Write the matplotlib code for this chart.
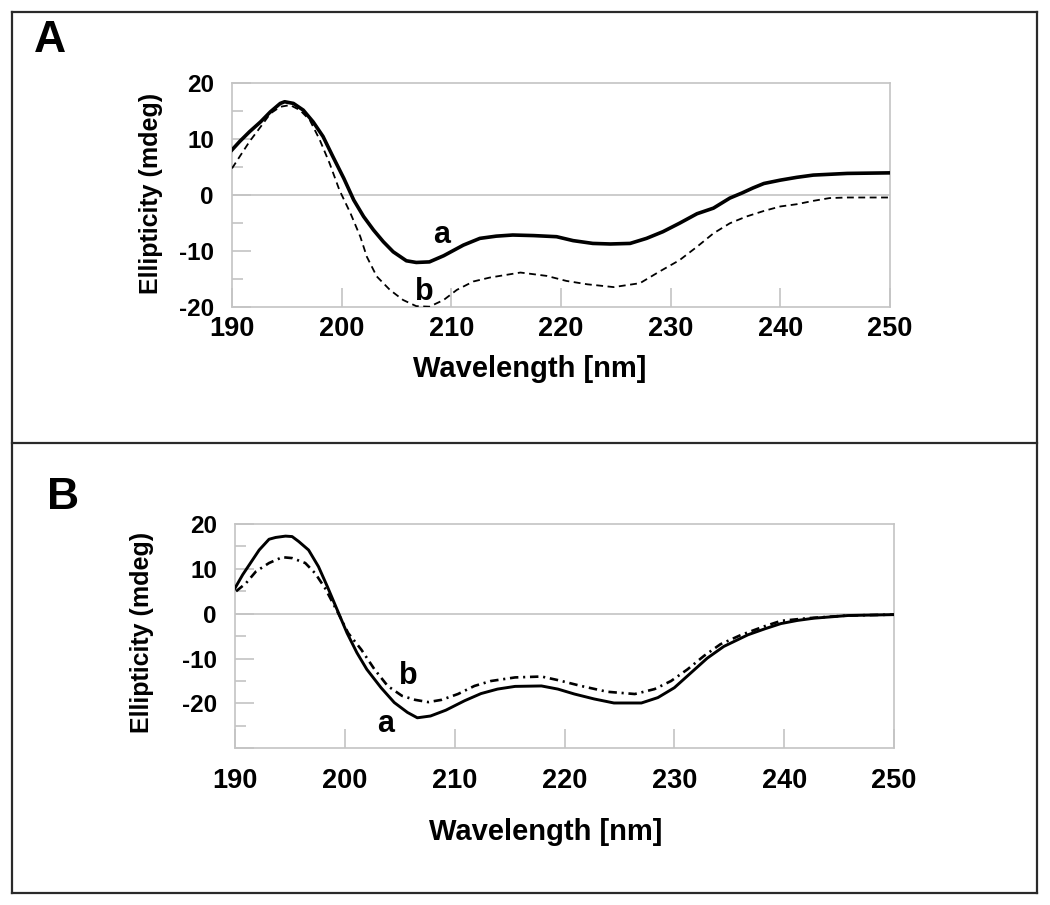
import matplotlib
matplotlib.use("Agg")
import matplotlib.pyplot as plt
from matplotlib.lines import Line2D

plt.rcParams['font.family'] = ['Liberation Sans', 'DejaVu Sans']
plt.rcParams['font.weight'] = 'bold'

# panel A: CD spectra, curve a (solid) and b (dashed)
wl_A_a = [190.0, 190.7, 191.6, 192.6, 193.5, 194.4, 194.8, 195.6, 196.5, 197.4, 198.3, 199.2,
          200.2, 201.1, 202.0, 202.9, 203.8, 204.7, 205.9, 206.8, 208.0, 209.3, 211.1, 212.6,
          214.1, 215.6, 217.5, 219.6, 221.1, 222.9, 224.5, 226.3, 227.8, 229.3, 230.8, 232.4,
          233.9, 235.4, 236.5, 237.5, 238.5, 240.0, 241.5, 243.0, 246.1, 250.0]
cd_A_a = [8.0, 9.5, 11.25, 13.0, 14.8, 16.3, 16.6, 16.3, 15.1, 13.0, 10.4, 6.8,
          2.9, -0.95, -3.9, -6.3, -8.4, -10.2, -11.8, -12.1, -12.0, -10.9, -9.0, -7.8,
          -7.4, -7.2, -7.3, -7.5, -8.2, -8.7, -8.8, -8.7, -7.8, -6.6, -5.1, -3.4,
          -2.4, -0.6, 0.3, 1.2, 2.0, 2.6, 3.1, 3.5, 3.8, 3.9]

wl_A_b = [190.0, 190.7, 191.6, 192.6, 193.5, 194.4, 195.3, 196.2, 197.1, 198.0, 198.9, 199.8,
          200.8, 201.7, 202.3, 203.2, 204.4, 205.6, 206.8, 208.0, 209.3, 210.5, 212.0, 213.5,
          216.3, 218.7, 220.5, 222.4, 224.8, 227.2, 229.0, 230.8, 232.4, 233.9, 235.4, 236.9,
          238.5, 240.0, 241.5, 243.0, 244.5, 246.1, 250.0]
cd_A_b = [4.7, 6.8, 9.5, 12.1, 14.5, 15.7, 16.0, 15.1, 13.3, 9.8, 5.6, 0.8,
          -3.3, -7.5, -11.1, -14.6, -17.0, -18.8, -19.9, -20.0, -18.8, -17.0, -15.5, -14.8,
          -13.9, -14.5, -15.4, -16.0, -16.5, -15.8, -13.7, -11.7, -9.3, -6.9, -5.1, -3.9,
          -2.9, -2.1, -1.7, -1.1, -0.6, -0.5, -0.5]

# panel B: curve a (solid) and b (dash-dot)
wl_B_a = [190.0, 190.7, 191.3, 192.2, 193.1, 193.7, 194.6, 195.2, 195.8, 196.7, 197.6, 198.4,
          199.3, 200.2, 201.1, 202.0, 203.3, 204.5, 205.7, 206.6, 207.8, 209.2, 210.9, 212.4,
          213.9, 215.5, 217.9, 219.4, 220.9, 222.7, 224.5, 227.0, 228.5, 230.0, 231.5, 233.0,
          234.5, 236.7, 238.2, 239.7, 241.2, 242.7, 245.8, 250.0]
cd_B_a = [5.7, 8.7, 10.9, 14.2, 16.6, 17.0, 17.3, 17.2, 16.1, 14.2, 10.5, 6.1,
          0.9, -4.3, -8.7, -12.4, -16.5, -19.8, -22.0, -23.2, -22.8, -21.5, -19.4, -17.8,
          -16.8, -16.2, -16.1, -16.8, -17.9, -19.0, -19.9, -19.9, -18.7, -16.5, -13.2, -9.9,
          -7.3, -4.7, -3.4, -2.2, -1.5, -1.0, -0.4, -0.2]

wl_B_b = [190.1, 191.0, 191.9, 193.1, 194.3, 195.2, 196.4, 197.3, 198.2, 199.4, 200.3, 201.5,
          202.7, 203.9, 205.2, 206.4, 207.6, 208.8, 210.3, 211.8, 213.3, 215.5, 217.9, 219.4,
          221.5, 223.9, 226.4, 228.2, 229.7, 231.2, 232.7, 234.2, 236.1, 238.2, 239.7, 242.1,
          245.8, 250.0]
cd_B_b = [5.0, 6.8, 9.4, 11.3, 12.6, 12.4, 11.3, 9.0, 5.7, 0.1, -4.3, -8.0,
          -12.4, -16.1, -18.3, -19.2, -19.7, -19.2, -17.9, -16.1, -15.0, -14.2, -14.0, -14.8,
          -16.1, -17.4, -17.9, -16.8, -15.0, -12.4, -9.4, -6.8, -4.7, -2.8, -1.6, -1.0,
          -0.4, -0.2]

x_ticks = [190, 200, 210, 220, 230, 240, 250]
GRAY = '#c4c4c4'

fig = plt.figure(figsize=(10.5, 9.05), dpi=100)
W, H = 1050, 905


def px(x, y):
    return x / W, 1 - y / H


def style_axes(ax, ylim, major, minor, ylabels, xpad):
    ax.set_xlim(190, 250)
    ax.set_ylim(*ylim)
    for s in ax.spines.values():
        s.set_color(GRAY)
        s.set_linewidth(1.2)
    ax.axhline(0, color=GRAY, lw=1.2, zorder=1)
    ax.set_xticks(x_ticks)
    ax.set_xticklabels([str(t) for t in x_ticks])
    ax.set_yticks(major)
    ax.set_yticklabels(ylabels)
    ax.set_yticks(minor, minor=True)
    ax.tick_params(axis='both', which='major', direction='in', length=14, width=1.2,
                   color=GRAY, labelcolor='black')
    ax.tick_params(axis='y', which='minor', direction='in', length=8, width=1.2, color=GRAY)
    ax.tick_params(axis='y', which='major', labelsize=17.5, pad=13)
    ax.tick_params(axis='x', which='major', labelsize=19.5, pad=xpad)
    for lab in ax.get_xticklabels() + ax.get_yticklabels():
        lab.set_fontweight('bold')


# ---- panel A ----
l, b = px(232, 306.7)
r, t = px(890, 82.7)
axA = fig.add_axes([l, b, r - l, t - b])
axA.plot(wl_A_a, cd_A_a, color='black', lw=2.6, zorder=3)
axA.plot(wl_A_b, cd_A_b, color='black', lw=1.3, dashes=(3.8, 2.5), zorder=3)
style_axes(axA, (-20, 20), [-20, -10, 0, 10, 20], [-15, -5, 5, 15],
           ['-20', '-10', '0', '10', '20'], 7)
axA.text(209.1, -8.6, 'a', fontsize=22, fontweight='bold', ha='center', va='baseline')
axA.text(207.5, -18.8, 'b', fontsize=22, fontweight='bold', ha='center', va='baseline',
         clip_on=False)

# ---- panel B ----
l, b = px(235, 748.3)
r, t = px(894, 524)
axB = fig.add_axes([l, b, r - l, t - b])
axB.plot(wl_B_a, cd_B_a, color='black', lw=2.1, zorder=3)
axB.plot(wl_B_b, cd_B_b, color='black', lw=1.9, dashes=(3.2, 1.8, 0.8, 1.8), zorder=3)
style_axes(axB, (-30, 20), [-30, -20, -10, 0, 10, 20], [-25, -15, -5, 5, 15],
           ['', '-20', '-10', '0', '10', '20'], 14)
axB.text(205.8, -15.7, 'b', fontsize=22, fontweight='bold', ha='center', va='baseline')
axB.text(203.7, -26.4, 'a', fontsize=22, fontweight='bold', ha='center', va='baseline')

# axis titles
fig.text(*px(529.5, 377), 'Wavelength [nm]', fontsize=21, fontweight='bold',
         ha='center', va='baseline')
fig.text(*px(546, 840), 'Wavelength [nm]', fontsize=21, fontweight='bold',
         ha='center', va='baseline')
fig.text(*px(151, 193.5), 'Ellipticity (mdeg)', fontsize=18, fontweight='bold',
         rotation=90, ha='center', va='center')
fig.text(*px(142, 632), 'Ellipticity (mdeg)', fontsize=18, fontweight='bold',
         rotation=90, ha='center', va='center')

# panel letters
fig.text(*px(50, 41), 'A', fontsize=32, fontweight='bold', ha='center', va='center')
fig.text(*px(63.5, 497.5), 'B', fontsize=32, fontweight='bold', ha='center', va='center')

# panel frames
frame_kw = dict(color='#2a2a2a', lw=1.6, transform=fig.transFigure)
x0, y0 = px(12, 893)
x1, y1 = px(1037, 12)
_, ym = px(0, 443)
for xs, ys in [([x0, x1], [y1, y1]), ([x0, x1], [y0, y0]), ([x0, x1], [ym, ym]),
               ([x0, x0], [y0, y1]), ([x1, x1], [y0, y1])]:
    fig.add_artist(Line2D(xs, ys, **frame_kw))

fig.savefig('out.png', dpi=100, facecolor='white')
